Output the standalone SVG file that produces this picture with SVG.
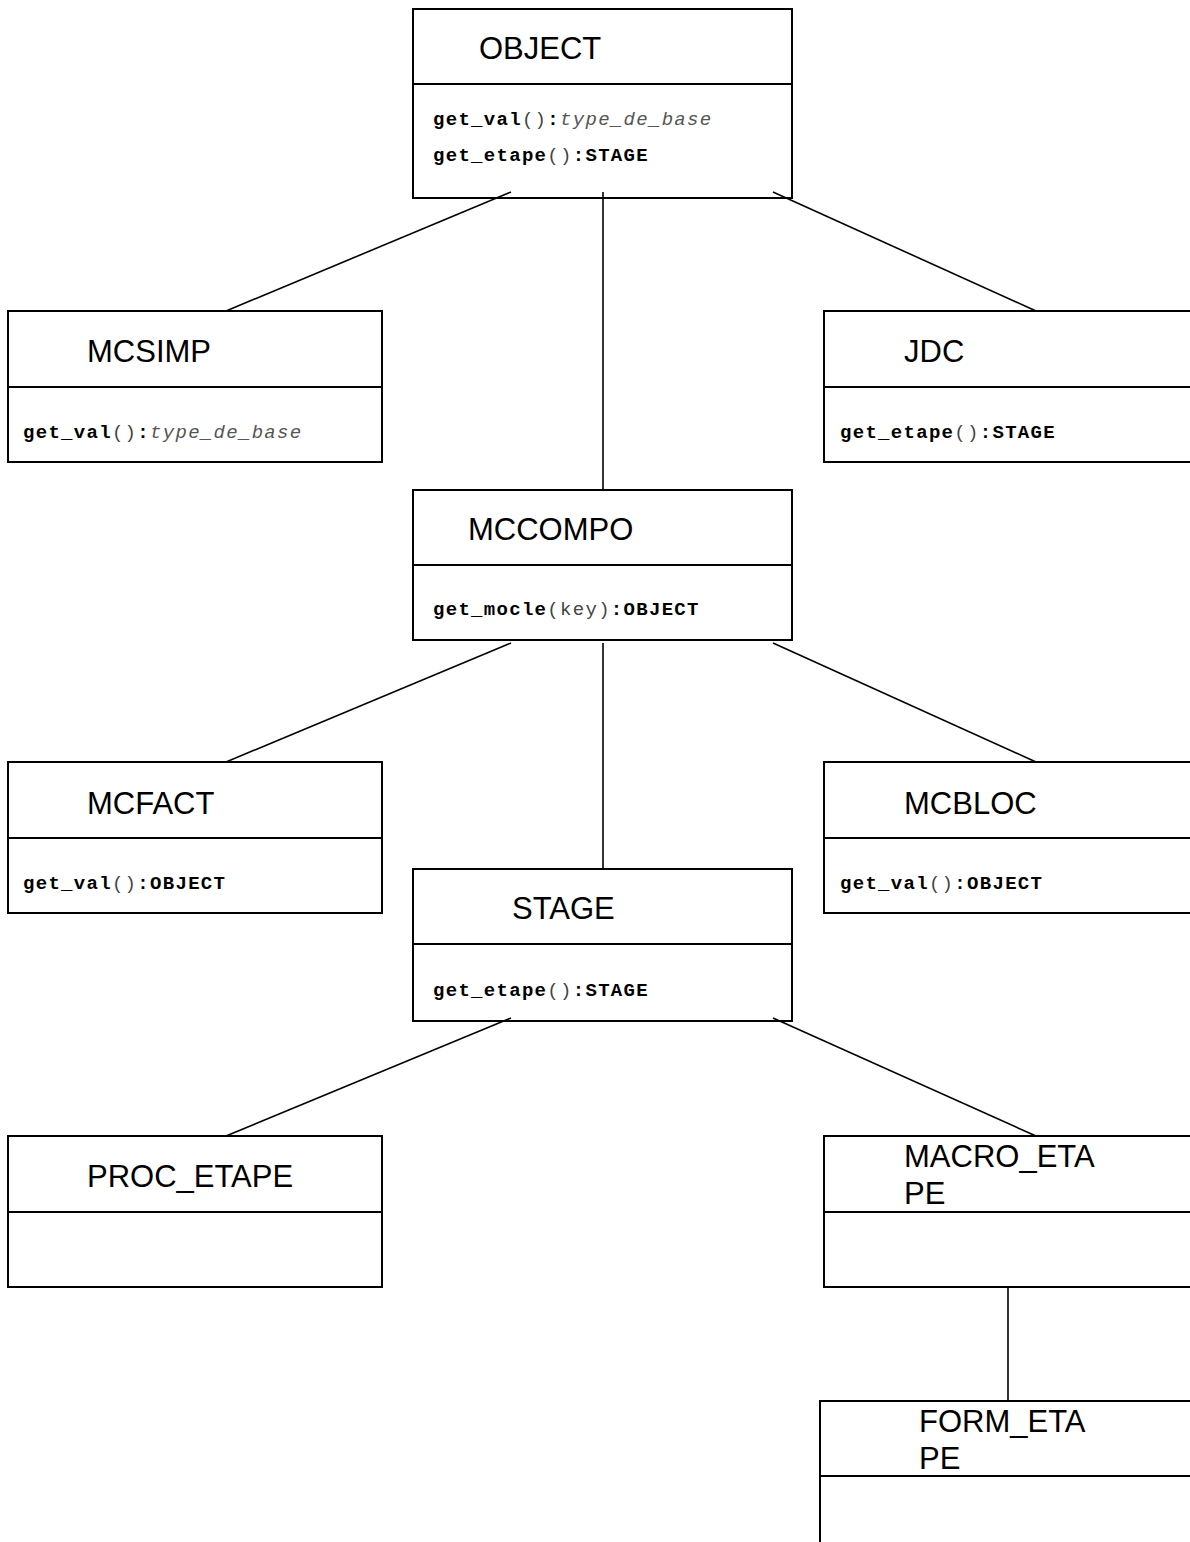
<svg xmlns="http://www.w3.org/2000/svg" width="1190" height="1542" viewBox="0 0 1190 1542">
<style>
.box{fill:#fff;stroke:#000;stroke-width:2}
.div{stroke:#000;stroke-width:2}
.t{font-family:"Liberation Sans",Arial,sans-serif;font-size:31px;fill:#000}
.m{font-family:"Liberation Mono","Courier New",monospace;font-size:19px;letter-spacing:1.3px;fill:#000}
.b{font-weight:bold}
.n{fill:#444}
.i{font-style:italic;fill:#555}
.c{stroke:#000;stroke-width:1.6;fill:none}
</style>
<rect width="1190" height="1542" fill="#fff"/>
<g id="OBJECT">
<rect class="box" x="413" y="9" width="379" height="189"/>
<line class="div" x1="413" y1="84" x2="792" y2="84"/>
<text class="t" x="479" y="59">OBJECT</text>
<text class="m" x="433" y="125"><tspan class="b">get_val</tspan><tspan class="n">()</tspan><tspan class="b">:</tspan><tspan class="i">type_de_base</tspan></text>
<text class="m" x="433" y="161"><tspan class="b">get_etape</tspan><tspan class="n">()</tspan><tspan class="b">:STAGE</tspan></text>
</g>
<g id="MCSIMP">
<rect class="box" x="8" y="311" width="374" height="151"/>
<line class="div" x1="8" y1="387" x2="382" y2="387"/>
<text class="t" x="87" y="362">MCSIMP</text>
<text class="m" x="23" y="438"><tspan class="b">get_val</tspan><tspan class="n">()</tspan><tspan class="b">:</tspan><tspan class="i">type_de_base</tspan></text>
</g>
<g id="JDC">
<rect class="box" x="824" y="311" width="380" height="151"/>
<line class="div" x1="824" y1="387" x2="1190" y2="387"/>
<text class="t" x="904" y="362">JDC</text>
<text class="m" x="840" y="438"><tspan class="b">get_etape</tspan><tspan class="n">()</tspan><tspan class="b">:STAGE</tspan></text>
</g>
<g id="MCCOMPO">
<rect class="box" x="413" y="490" width="379" height="150"/>
<line class="div" x1="413" y1="565" x2="792" y2="565"/>
<text class="t" x="468" y="540">MCCOMPO</text>
<text class="m" x="433" y="615"><tspan class="b">get_mocle</tspan><tspan class="n">(key)</tspan><tspan class="b">:OBJECT</tspan></text>
</g>
<g id="MCFACT">
<rect class="box" x="8" y="762" width="374" height="151"/>
<line class="div" x1="8" y1="838" x2="382" y2="838"/>
<text class="t" x="87" y="814">MCFACT</text>
<text class="m" x="23" y="889"><tspan class="b">get_val</tspan><tspan class="n">()</tspan><tspan class="b">:OBJECT</tspan></text>
</g>
<g id="MCBLOC">
<rect class="box" x="824" y="762" width="380" height="151"/>
<line class="div" x1="824" y1="838" x2="1190" y2="838"/>
<text class="t" x="904" y="814">MCBLOC</text>
<text class="m" x="840" y="889"><tspan class="b">get_val</tspan><tspan class="n">()</tspan><tspan class="b">:OBJECT</tspan></text>
</g>
<g id="STAGE">
<rect class="box" x="413" y="869" width="379" height="152"/>
<line class="div" x1="413" y1="944" x2="792" y2="944"/>
<text class="t" x="512" y="919">STAGE</text>
<text class="m" x="433" y="996"><tspan class="b">get_etape</tspan><tspan class="n">()</tspan><tspan class="b">:STAGE</tspan></text>
</g>
<g id="PROC_ETAPE">
<rect class="box" x="8" y="1136" width="374" height="151"/>
<line class="div" x1="8" y1="1212" x2="382" y2="1212"/>
<text class="t" x="87" y="1187">PROC_ETAPE</text>
</g>
<g id="MACRO_ETAPE">
<rect class="box" x="824" y="1136" width="380" height="151"/>
<line class="div" x1="824" y1="1212" x2="1190" y2="1212"/>
<text class="t" x="904" y="1167">MACRO_ETA</text>
<text class="t" x="904" y="1204">PE</text>
</g>
<g id="FORM_ETAPE">
<rect class="box" x="820" y="1401" width="384" height="160"/>
<line class="div" x1="820" y1="1476" x2="1190" y2="1476"/>
<text class="t" x="919" y="1432">FORM_ETA</text>
<text class="t" x="919" y="1469">PE</text>
</g>
<g id="connectors">
<line class="c" x1="511" y1="192" x2="226" y2="311"/>
<line class="c" x1="603" y1="192" x2="603" y2="490"/>
<line class="c" x1="773" y1="192" x2="1036" y2="311"/>
<line class="c" x1="511" y1="643" x2="226" y2="762"/>
<line class="c" x1="603" y1="643" x2="603" y2="869"/>
<line class="c" x1="773" y1="643" x2="1036" y2="762"/>
<line class="c" x1="511" y1="1018" x2="226" y2="1136"/>
<line class="c" x1="773" y1="1018" x2="1036" y2="1136"/>
<line class="c" x1="1008" y1="1287" x2="1008" y2="1401"/>
</g>
</svg>
